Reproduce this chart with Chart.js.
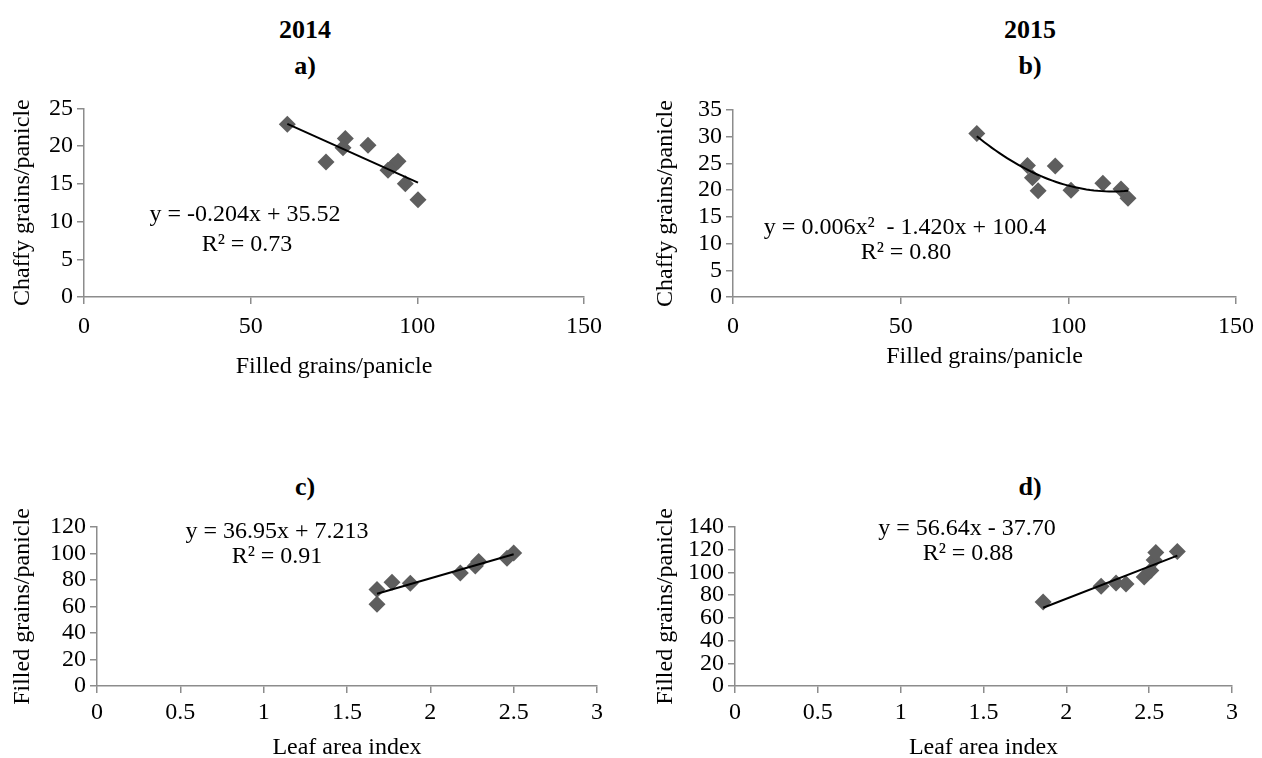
<!DOCTYPE html>
<html>
<head>
<meta charset="utf-8">
<script src="https://cdn.jsdelivr.net/npm/chart.js@4.4.1/dist/chart.umd.min.js"></script>
<style>
body { margin:0; background:#fff; width:1262px; height:758px; position:relative; overflow:hidden; font-family:"Liberation Serif", "Times New Roman", serif; }
canvas { position:absolute; }
.lbl { position:absolute; transform:translate(-50%,-50%); white-space:nowrap; color:#000; }
.head { font-weight:bold; font-size:26px; }
.eq { font-size:24px; }
</style>
</head>
<body>
<div class="lbl head" style="left:305px;top:30px">2014</div>
<div class="lbl head" style="left:305px;top:66px">a)</div>
<div class="lbl head" style="left:1030px;top:30px">2015</div>
<div class="lbl head" style="left:1030px;top:66px">b)</div>
<div class="lbl head" style="left:305px;top:487px">c)</div>
<div class="lbl head" style="left:1030px;top:487px">d)</div>

<canvas id="chartA" width="620" height="300" style="left:0;top:90px"></canvas>
<canvas id="chartB" width="622" height="300" style="left:640px;top:90px"></canvas>
<canvas id="chartC" width="630" height="262" style="left:0;top:500px"></canvas>
<canvas id="chartD" width="622" height="262" style="left:640px;top:500px"></canvas>

<div class="lbl eq" style="left:245px;top:213px">y = -0.204x + 35.52</div>
<div class="lbl eq" style="left:247px;top:243px">R² = 0.73</div>
<div class="lbl eq" style="left:905px;top:226px">y = 0.006x²&nbsp; - 1.420x + 100.4</div>
<div class="lbl eq" style="left:906px;top:251px">R² = 0.80</div>
<div class="lbl eq" style="left:277px;top:530px">y = 36.95x + 7.213</div>
<div class="lbl eq" style="left:277px;top:555px">R² = 0.91</div>
<div class="lbl eq" style="left:967px;top:527px">y = 56.64x - 37.70</div>
<div class="lbl eq" style="left:968px;top:552px">R² = 0.88</div>

<script>
// данные
const filled2014 = [61, 72.6, 78.4, 77.7, 85.2, 91.2, 92.8, 94.2, 96.4, 100.2];
const chaffy2014 = [22.9, 17.9, 21.0, 19.8, 20.1, 16.8, 17.4, 18.0, 15.0, 12.9];

const filled2015 = [72.7, 87.8, 89.3, 91, 96.1, 100.8, 110.3, 115.7, 117.8];
const chaffy2015 = [30.6, 24.6, 22.3, 19.9, 24.5, 20.0, 21.3, 20.2, 18.5];

const lai2014 = [1.68, 1.68, 1.77, 1.88, 2.18, 2.27, 2.29, 2.46, 2.50];
const grains2014 = [72.8, 61.7, 78.3, 77.6, 85.2, 90.5, 94.0, 96.5, 100.4];

const lai2015 = [1.86, 2.21, 2.30, 2.36, 2.47, 2.51, 2.53, 2.54, 2.67];
const grains2015 = [74, 87.8, 90.8, 89.8, 96, 101.6, 111, 117.6, 118.4];

const grainTicks = [0, 150, 50];     // min, max, step
const laiTicks = [0, 3, 0.5];
const chaffyTicksA = [0, 25, 5];
const chaffyTicksB = [0, 35, 5];
const grainsTicksC = [0, 120, 20];
const grainsTicksD = [0, 140, 20];

const FONT = "'Liberation Serif', 'Times New Roman', serif";
const AXIS_COLOR = "#8c8c8c";
const MARK_COLOR = "#5e5e5e";

// линейная регрессия
function linFit(xs, ys) {
    const n = xs.length;
    const mx = xs.reduce((a, b) => a + b, 0) / n;
    const my = ys.reduce((a, b) => a + b, 0) / n;
    let sxy = 0, sxx = 0;
    xs.forEach((x, i) => { sxy += (x - mx) * (ys[i] - my); sxx += (x - mx) * (x - mx); });
    const b = sxy / sxx;
    const a = my - b * mx;
    const lo = Math.min(...xs), hi = Math.max(...xs);
    return [{ x: lo, y: a + b * lo }, { x: hi, y: a + b * hi }];
}

// полиномиальная регрессия 2-й степени
function quadFit(xs, ys) {
    const S = [0, 0, 0, 0, 0], T = [0, 0, 0];
    xs.forEach((x, i) => {
        for (let k = 0; k < 5; k++) S[k] += Math.pow(x, k);
        for (let k = 0; k < 3; k++) T[k] += ys[i] * Math.pow(x, k);
    });
    const M = [[S[0], S[1], S[2], T[0]], [S[1], S[2], S[3], T[1]], [S[2], S[3], S[4], T[2]]];
    for (let i = 0; i < 3; i++) {
        for (let j = i + 1; j < 3; j++) {
            const f = M[j][i] / M[i][i];
            for (let k = i; k < 4; k++) M[j][k] -= f * M[i][k];
        }
    }
    const c = [0, 0, 0];
    for (let i = 2; i >= 0; i--) {
        let s = M[i][3];
        for (let k = i + 1; k < 3; k++) s -= M[i][k] * c[k];
        c[i] = s / M[i][i];
    }
    const lo = Math.min(...xs), hi = Math.max(...xs);
    const pts = [];
    for (let i = 0; i <= 40; i++) {
        const x = lo + (hi - lo) * i / 40;
        pts.push({ x: x, y: c[0] + c[1] * x + c[2] * x * x });
    }
    return pts;
}

function axis(range, title, size, titlePad, tickPad) {
    return {
        type: "linear",
        min: range[0],
        max: range[1],
        ticks: {
            stepSize: range[2],
            autoSkip: false,
            color: "#000",
            padding: tickPad,
            maxRotation: 0,
            font: { family: FONT, size: 24 },
            callback: (v) => String(+v.toFixed(2))
        },
        grid: { drawOnChartArea: false, drawTicks: true, tickLength: 7, color: AXIS_COLOR, lineWidth: 1.5 },
        border: { color: AXIS_COLOR, width: 1.5 },
        title: { display: true, text: title, color: "#000", font: { family: FONT, size: 24 }, padding: titlePad },
        afterFit: (s) => { if (s.isHorizontal()) s.height = size; else s.width = size; }
    };
}

function makeChart(id, xs, ys, trend, cfg) {
    const pts = xs.map((x, i) => ({ x: x, y: ys[i] }));
    new Chart(document.getElementById(id), {
        type: "scatter",
        data: {
            datasets: [
                { data: trend, showLine: true, pointRadius: 0, borderColor: "#000", borderWidth: 2, tension: 0, order: 0 },
                { data: pts, pointStyle: "rectRot", pointRadius: 8.5, pointHoverRadius: 8.5, backgroundColor: MARK_COLOR, borderWidth: 0, order: 1 }
            ]
        },
        options: {
            responsive: false,
            animation: false,
            layout: { padding: { left: 0, top: cfg.top, right: cfg.right, bottom: 0 } },
            plugins: { legend: { display: false }, tooltip: { enabled: false } },
            scales: {
                x: axis(cfg.xRange, cfg.xTitle, cfg.xSize, { top: 0, bottom: cfg.xTitlePad }, cfg.xTickPad),
                y: axis(cfg.yRange, cfg.yTitle, cfg.ySize, { top: cfg.yTitlePad, bottom: 0 }, 4)
            }
        }
    });
}

makeChart("chartA", filled2014, chaffy2014, linFit(filled2014, chaffy2014), {
    top: 18, right: 36, xSize: 93, ySize: 84, xTitlePad: 9, yTitlePad: 8, xTickPad: 8,
    xRange: grainTicks, yRange: chaffyTicksA,
    xTitle: "Filled grains/panicle", yTitle: "Chaffy grains/panicle"
});

makeChart("chartB", filled2015, chaffy2015, quadFit(filled2015, chaffy2015), {
    top: 20, right: 22, xSize: 93, ySize: 93, xTitlePad: 19, yTitlePad: 11, xTickPad: 8,
    xRange: grainTicks, yRange: chaffyTicksB,
    xTitle: "Filled grains/panicle", yTitle: "Chaffy grains/panicle"
});

makeChart("chartC", lai2014, grains2014, linFit(lai2014, grains2014), {
    top: 27, right: 33, xSize: 76, ySize: 97, xTitlePad: 0, yTitlePad: 8, xTickPad: 5,
    xRange: laiTicks, yRange: grainsTicksC,
    xTitle: "Leaf area index", yTitle: "Filled grains/panicle"
});

makeChart("chartD", lai2015, grains2015, linFit(lai2015, grains2015), {
    top: 27, right: 30, xSize: 76, ySize: 95, xTitlePad: 0, yTitlePad: 11, xTickPad: 5,
    xRange: laiTicks, yRange: grainsTicksD,
    xTitle: "Leaf area index", yTitle: "Filled grains/panicle"
});
</script>
</body>
</html>
